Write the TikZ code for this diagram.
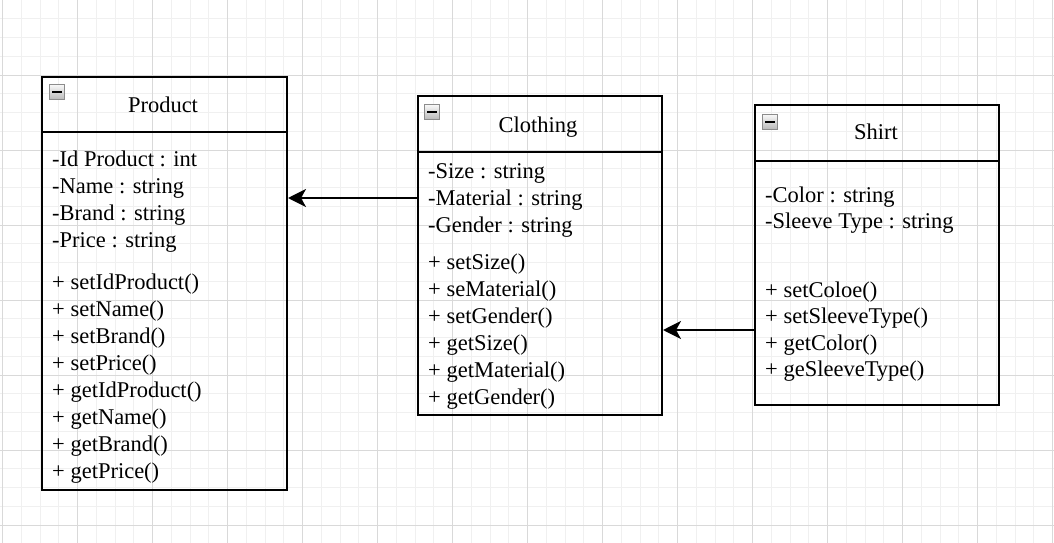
\documentclass[tikz,border=0pt]{standalone}
\usepackage{fontspec}
\setmainfont{Liberation Serif}
\usetikzlibrary{arrows.meta}
\definecolor{minorgrid}{HTML}{F0F0F0}
\definecolor{majorgrid}{HTML}{D9D9D9}
\definecolor{iconborder}{HTML}{8C8C8C}
\begin{document}
\begin{tikzpicture}[x=1pt,y=-1pt,
  classbox/.style={draw=black, line width=2pt, inner sep=0pt, anchor=north west},
  divider/.style={draw=black, line width=2pt},
  classtitle/.style={font=\fontsize{22.5}{26}\selectfont, anchor=base, inner sep=0pt},
  member/.style={font=\fontsize{22.5}{26}\selectfont, anchor=base west, inner sep=0pt},
  iconbox/.style={draw=iconborder, line width=1pt, top color=white!95!gray, bottom color=gray!55, minimum width=15pt, minimum height=15pt, inner sep=0pt, anchor=north west},
  assoc/.style={draw=black, line width=2pt, -{Stealth[length=18pt, width=18pt, inset=5pt]}},
  mgrid/.style={draw=minorgrid, line width=1pt},
  Mgrid/.style={draw=majorgrid, line width=1pt}]
\useasboundingbox (0,0) rectangle (1054,543);
% grid
\foreach \k in {0,...,56} { \draw[mgrid] ({2.5+18.75*\k},0) -- ({2.5+18.75*\k},543); }
\foreach \k in {0,...,28} { \draw[mgrid] (0,{18.75*\k}) -- (1054,{18.75*\k}); }
\foreach \k in {0,...,14} { \draw[Mgrid] ({2.5+75*\k},0) -- ({2.5+75*\k},543); }
\foreach \k in {0,...,7} { \draw[Mgrid] (0,{75*\k}) -- (1054,{75*\k}); }

% Product
\node[classbox, minimum width=245pt, minimum height=413pt] (product) at (41,76) {};
\draw[divider] ([yshift=-56pt]product.north west) -- ([yshift=-56pt]product.north east);
\node[iconbox] (picon) at (49,84) {};
\draw[line width=2pt] ([xshift=3pt]picon.west) -- ([xshift=-3pt]picon.east);
\node[classtitle] (ptitle) at (163,112) {Product};
\node[member] (p1) at (52,166) {-Id Product : int};
\node[member] (p2) at (52,193) {-Name : string};
\node[member] (p3) at (52,220) {-Brand : string};
\node[member] (p4) at (52,247) {-Price : string};
\node[member] (p5) at (52,289) {+ setIdProduct()};
\node[member] (p6) at (52,316) {+ setName()};
\node[member] (p7) at (52,343) {+ setBrand()};
\node[member] (p8) at (52,370) {+ setPrice()};
\node[member] (p9) at (52,397) {+ getIdProduct()};
\node[member] (p10) at (52,424) {+ getName()};
\node[member] (p11) at (52,451) {+ getBrand()};
\node[member] (p12) at (52,478) {+ getPrice()};

% Clothing
\node[classbox, minimum width=244pt, minimum height=319pt] (clothing) at (417,95) {};
\draw[divider] ([yshift=-57pt]clothing.north west) -- ([yshift=-57pt]clothing.north east);
\node[iconbox] (cicon) at (424,104) {};
\draw[line width=2pt] ([xshift=3pt]cicon.west) -- ([xshift=-3pt]cicon.east);
\node[classtitle] (ctitle) at (538,132) {Clothing};
\node[member] (c1) at (428,178) {-Size : string};
\node[member] (c2) at (428,205) {-Material : string};
\node[member] (c3) at (428,232) {-Gender : string};
\node[member] (c4) at (428,269) {+ setSize()};
\node[member] (c5) at (428,296) {+ seMaterial()};
\node[member] (c6) at (428,323) {+ setGender()};
\node[member] (c7) at (428,350) {+ getSize()};
\node[member] (c8) at (428,377) {+ getMaterial()};
\node[member] (c9) at (428,404) {+ getGender()};

% Shirt
\node[classbox, minimum width=244pt, minimum height=300pt] (shirt) at (754,104) {};
\draw[divider] ([yshift=-57pt]shirt.north west) -- ([yshift=-57pt]shirt.north east);
\node[iconbox] (sicon) at (762,114) {};
\draw[line width=2pt] ([xshift=3pt]sicon.west) -- ([xshift=-3pt]sicon.east);
\node[classtitle] (stitle) at (876,139) {Shirt};
\node[member] (s1) at (765,202) {-Color : string};
\node[member] (s2) at (765,228) {-Sleeve Type : string};
\node[member] (s3) at (765,297) {+ setColoe()};
\node[member] (s4) at (765,323) {+ setSleeveType()};
\node[member] (s5) at (765,350) {+ getColor()};
\node[member] (s6) at (765,376) {+ geSleeveType()};

% associations
\coordinate (a1) at (0,198);
\coordinate (a2) at (0,330);
\draw[assoc] (clothing.west |- a1) -- (product.east |- a1);
\draw[assoc] (shirt.west |- a2) -- (clothing.east |- a2);
\end{tikzpicture}
\end{document}
